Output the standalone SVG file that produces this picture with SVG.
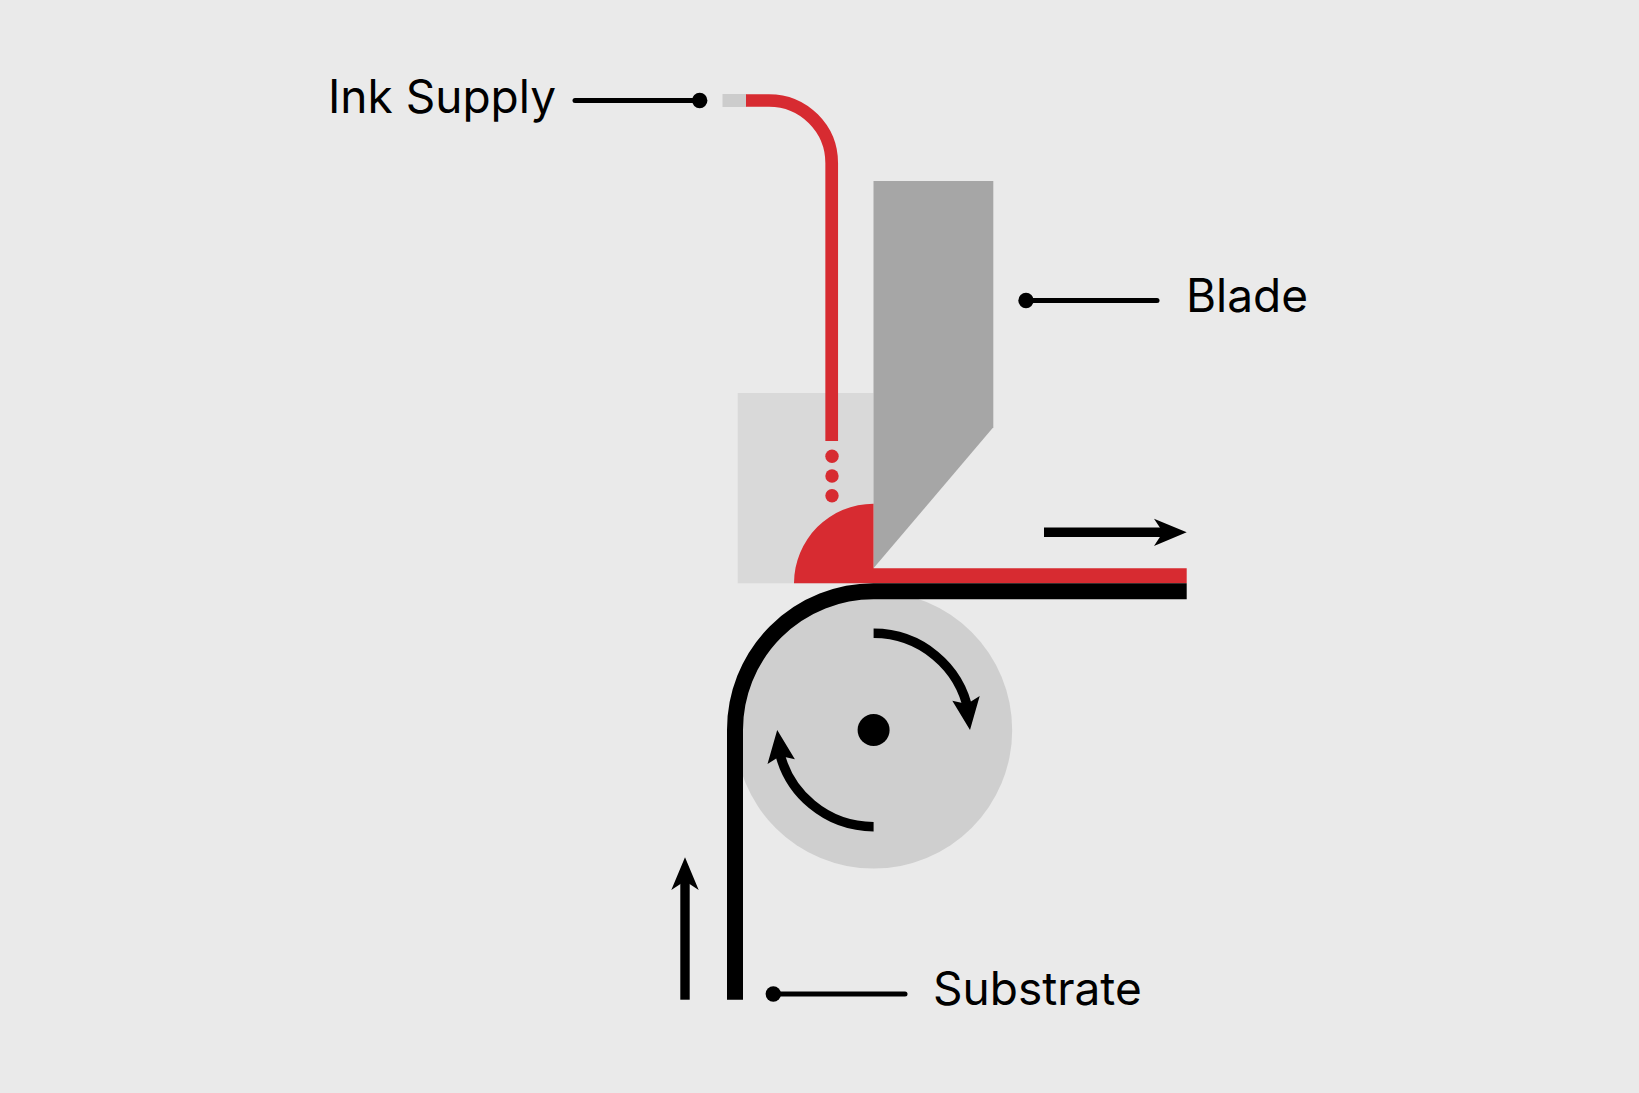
<svg xmlns="http://www.w3.org/2000/svg" width="1639" height="1093" viewBox="0 0 1639 1093">
<style>
.label{font-family:"Inter","Liberation Sans",sans-serif;font-size:46px;fill:#000}
.leader{stroke:#000;stroke-width:5;stroke-linecap:round;fill:none}
.red{fill:#d72b31}
.blk{fill:#000}
.band{fill:none;stroke:#000;stroke-width:16}
.rot{fill:none;stroke:#000;stroke-width:9.5}
</style>
<rect width="1639" height="1093" fill="#eaeaea"/>
<g id="ink-box"><rect x="737.7" y="393" width="135.8" height="190.3" fill="#d9d9d9"/></g>
<g id="roller">
<circle cx="873.6" cy="730" r="138.6" fill="#cfcfcf"/>
<circle cx="873.6" cy="730" r="16" class="blk"/>
</g>
<g id="blade"><polygon points="873.5,181 993.3,181 993.3,427.3 873.5,568.3" fill="#a6a6a6"/></g>
<g id="ink-supply-tube">
<rect x="722.5" y="94" width="24" height="13" fill="#cccccc"/>
<path d="M746 100.5H769A62.7 62.7 0 0 1 831.7 163.2V441" fill="none" stroke="#d72b31" stroke-width="12.7"/>
<circle cx="832" cy="456.3" r="6.7" class="red"/>
<circle cx="832" cy="476" r="6.7" class="red"/>
<circle cx="832" cy="495.7" r="6.7" class="red"/>
</g>
<g id="ink">
<path d="M794 583.3A79.5 79.5 0 0 1 873.5 503.8V568.3H1186.7V583.3Z" class="red"/>
</g>
<g id="substrate"><path d="M1186.7 591.3H873.5A138.5 138.5 0 0 0 735 729.8V999.7" class="band"/></g>
<g id="connectors">
<path class="rot" d="M873.6 633.3A96.7 96.7 0 0 1 968.6 712"/>
<polygon class="blk" points="970,730 979.7,696 967,704 952.3,700.7"/>
<path class="rot" d="M873.6 826.7A96.7 96.7 0 0 1 778.6 748"/>
<polygon class="blk" points="777.2,730 767.5,764 780.2,756 794.9,759.3"/>
<rect class="blk" x="1044" y="527.5" width="122" height="9.5"/>
<polygon class="blk" points="1186.7,532.3 1154,518.7 1163,532.3 1154,546"/>
<rect class="blk" x="680.3" y="880" width="9.4" height="119.7"/>
<polygon class="blk" points="685,857.3 671.3,890 685,881 698.7,890"/>
<path class="leader" d="M575 100.5H699"/>
<circle cx="699.7" cy="100.5" r="7.7" class="blk"/>
<path class="leader" d="M1026 300.5H1157"/>
<circle cx="1026" cy="300.5" r="7.7" class="blk"/>
<path class="leader" d="M773.3 994H905"/>
<circle cx="773.3" cy="994" r="7.7" class="blk"/>
</g>
<g id="label-ink-supply"><text class="label" x="328" y="112.5">Ink Supply</text></g>
<g id="label-blade"><text class="label" x="1186" y="311.5">Blade</text></g>
<g id="label-substrate"><text class="label" x="933" y="1004.5">Substrate</text></g>
</svg>
